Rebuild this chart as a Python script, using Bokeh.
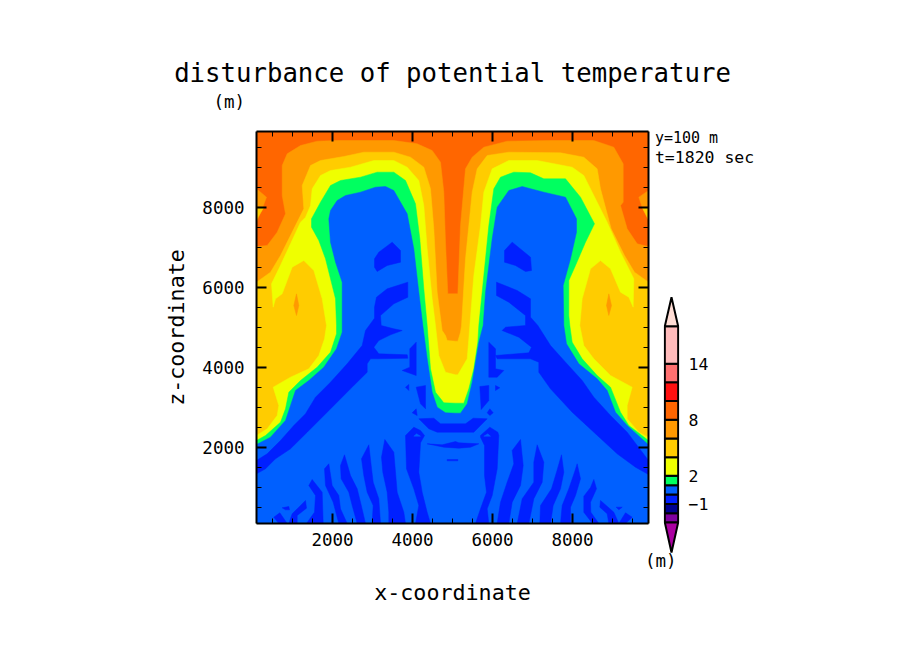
from bokeh.embed import file_html
from bokeh.layouts import row
from bokeh.models import FixedTicker, Label, LinearAxis, Range1d
from bokeh.plotting import figure
from bokeh.resources import INLINE

# contour outlines, (x, z) in metres, filled back to front
x_min, x_max = 100, 9900
z_min, z_max = 100, 9900
major_ticks = [2000, 4000, 6000, 8000]
minor_ticks = [500, 1000, 1500, 2500, 3000, 3500, 4500, 5000, 5500, 6500, 7000, 7500, 8500, 9000, 9500]

# 6 to 8
orange_outline = [(100, 7025), (367, 7050), (617, 7383), (825, 7842), (742, 8300), (742, 9050), (867, 9342),
                  (1200, 9550), (1617, 9658), (2117, 9675), (3533, 9675), (4117, 9592), (4492, 9425), (4700, 9133),
                  (4783, 8383), (4825, 7133), (4883, 5842), (5133, 5842), (5200, 7550), (5325, 8967), (5492, 9258),
                  (5783, 9508), (6367, 9658), (7450, 9675), (8533, 9675), (9033, 9508), (9267, 9092), (9267, 8133),
                  (9200, 8050), (9367, 7467), (9617, 7092), (9900, 7025), (9900, 100), (100, 100)]
orange_bump_left = [(100, 8467), (350, 8258), (242, 7967), (100, 7633)]
orange_bump_right = [(9900, 8425), (9658, 8258), (9742, 8008), (9900, 7675)]
gold_bump_left = [(100, 8000), (283, 8000), (100, 7700)]
gold_bump_right = [(9900, 8000), (9742, 8000), (9900, 7700)]

# 4 to 6
gold_outline = [(100, 6133), (450, 6383), (700, 6800), (1033, 7467), (1283, 7967), (1242, 8550), (1450, 9050),
                (1700, 9175), (2283, 9275), (2783, 9383), (3533, 9383), (3950, 9258), (4283, 9008), (4450, 8467),
                (4533, 7467), (4617, 5883), (4742, 4925), (4825, 4800), (4867, 4675), (5075, 4658), (5133, 4658),
                (5200, 4883), (5225, 5050), (5325, 6717), (5492, 8383), (5617, 8967), (5867, 9300), (6408, 9383),
                (7700, 9367), (8283, 9258), (8617, 8967), (8700, 8467), (8967, 7467), (9300, 6800), (9550, 6383),
                (9900, 6133), (9900, 100), (100, 100)]
orange_spot_left = [(1100, 5842), (1158, 5550), (1100, 5300), (1033, 5550)]
orange_spot_right = [(8908, 5842), (8975, 5550), (8908, 5300), (8850, 5550)]

# 2 to 4
yellow_outline = [(100, 2300), (367, 2467), (617, 2800), (658, 3050), (517, 3508), (950, 3758), (1408, 3967),
                  (1658, 4300), (1800, 4717), (1850, 5050), (1742, 5717), (1533, 6425), (1283, 6675), (992, 6508),
                  (742, 5842), (575, 5717), (517, 5508), (475, 6092), (658, 6467), (950, 7092), (1200, 7633),
                  (1325, 7758), (1450, 8050), (1492, 8467), (1700, 8800), (1950, 8925), (2450, 9008), (3033, 9175),
                  (3533, 9175), (3867, 9008), (4158, 8675), (4283, 8050), (4367, 6967), (4492, 5717), (4575, 5050),
                  (4658, 4300), (4825, 3883), (5075, 3817), (5133, 3817), (5367, 4217), (5408, 4717), (5433, 5050),
                  (5533, 6300), (5700, 7550), (5783, 8383), (5992, 8967), (6408, 9175), (7117, 9175), (7992, 9008),
                  (8283, 8800), (8492, 8383), (8867, 7633), (9200, 6883), (9533, 6217), (9517, 5508), (9408, 5758),
                  (9200, 5883), (8950, 6467), (8700, 6675), (8450, 6467), (8242, 5717), (8183, 5050), (8283, 4550),
                  (8533, 4217), (8950, 3800), (9492, 3508), (9367, 3050), (9367, 2717), (9658, 2383), (9900, 2250),
                  (9900, 100), (100, 100)]

# 1 to 2
green_outline = [(100, 2175), (325, 2300), (700, 2633), (825, 2967), (908, 3383), (1200, 3675), (1617, 4008),
                 (1950, 4383), (2100, 4842), (2100, 5050), (2075, 5717), (1825, 6717), (1658, 7175), (1475, 7508),
                 (1475, 7717), (1700, 8133), (1950, 8550), (2200, 8675), (2700, 8758), (3117, 8883), (3533, 8883),
                 (3825, 8675), (4075, 8092), (4183, 7217), (4283, 5967), (4367, 5050), (4450, 3967), (4575, 3383),
                 (4783, 3117), (5075, 3108), (5283, 3108), (5408, 3467), (5533, 3967), (5633, 4633), (5658, 5050),
                 (5783, 6300), (5908, 7550), (6033, 8467), (6200, 8758), (6533, 8883), (6950, 8867), (7283, 8717),
                 (7825, 8717), (8200, 8258), (8550, 7592), (8325, 7133), (8075, 6550), (7908, 6175), (7908, 5300),
                 (7933, 5050), (7992, 4633), (8242, 4217), (8617, 3800), (8950, 3508), (9200, 2883), (9408, 2550),
                 (9900, 2175), (9900, 100), (100, 100)]

# 0 to 1
blue_outline = [(100, 2075), (450, 2258), (825, 2675), (950, 3050), (1075, 3425), (1408, 3675), (1783, 4008),
                (2100, 4467), (2242, 4883), (2242, 5050), (2242, 6133), (2075, 6633), (1950, 7133), (1908, 7717),
                (1950, 7925), (2117, 8175), (2325, 8300), (2700, 8383), (3075, 8508), (3325, 8525), (3533, 8425),
                (3867, 7842), (4033, 6967), (4158, 5883), (4258, 5050), (4367, 4217), (4492, 3383), (4617, 3008),
                (4825, 2867), (5075, 2858), (5200, 2858), (5367, 3092), (5492, 3633), (5658, 4633), (5767, 5050),
                (5825, 5883), (5992, 7217), (6117, 8008), (6408, 8425), (6742, 8525), (7283, 8383), (7825, 8258),
                (8100, 7717), (8100, 7383), (7950, 6717), (7767, 6050), (7783, 5050), (7850, 4592), (8158, 4092),
                (8617, 3717), (8867, 3425), (9075, 2883), (9367, 2550), (9900, 2067), (9900, 100), (100, 100)]

# -1 to 0
band_left = [(100, 1675), (367, 1842), (700, 2175), (1033, 2550), (1325, 2842), (1575, 3258), (1950, 3633),
             (2367, 4092), (2742, 4550), (2825, 4925), (3050, 5233), (3050, 5508), (3100, 5758), (3367, 5967),
             (3883, 6133), (3883, 5758), (3533, 5592), (3200, 5300), (3217, 5050), (3533, 4967), (3742, 4925),
             (3450, 4817), (3158, 4675), (3033, 4508), (3158, 4342), (3867, 4317), (3883, 4233), (3117, 4217),
             (2950, 4217), (2867, 4092), (2867, 3883), (2450, 3467), (1867, 2883), (1367, 2383), (950, 1967),
             (575, 1717), (325, 1467), (100, 1342)]
band_right = [(6100, 6133), (6617, 5925), (6950, 5717), (6950, 5258), (7133, 5050), (7450, 4550), (7825, 4133),
              (8242, 3675), (8533, 3258), (8950, 2800), (9367, 2383), (9900, 1675), (9900, 1325), (9575, 1508),
              (9117, 1842), (8533, 2383), (7992, 2883), (7450, 3467), (7158, 3883), (7158, 4133), (6950, 4217),
              (6117, 4217), (6075, 4300), (6908, 4367), (6975, 4508), (6658, 4758), (6242, 4925), (6325, 5008),
              (6825, 5050), (6825, 5300), (6408, 5633), (6100, 5800)]
oval_left = [(3050, 6717), (3158, 6883), (3492, 7133), (3700, 6925), (3700, 6633), (3367, 6550), (3117, 6400), (3050, 6508)]
oval_right = [(6300, 6925), (6492, 7133), (6950, 6758), (6975, 6425), (6825, 6400), (6575, 6550), (6300, 6633)]
centre_bits = [
    [(4092, 4633), (4092, 3800), (3742, 3925), (3933, 4008), (3933, 4467)],
    [(5908, 4633), (6075, 4467), (6075, 3967), (6283, 3925), (6117, 3758), (5908, 3758)],
    [(3825, 3508), (3908, 3575), (3908, 3425)],
    [(6075, 3550), (6183, 3492), (6075, 3425)],
    [(4092, 3508), (4325, 3550), (4325, 2967), (4200, 3092)],
    [(5683, 3525), (5908, 3550), (5908, 3175), (5717, 2950)],
    [(3992, 2867), (4092, 2967), (4117, 2800)],
    [(5867, 2867), (5933, 2967), (6017, 2867), (5933, 2800)],
    [(4158, 2717), (4533, 2733), (4700, 2592), (5325, 2592), (5517, 2733), (5867, 2717), (5533, 2383), (4617, 2383), (4408, 2467)],
    [(4367, 2092), (4742, 2067), (5075, 2150), (5158, 2117), (5658, 2092), (5450, 2008), (5158, 1983), (4783, 2008)],
    [(4867, 1700), (5133, 1700), (5133, 1667), (4867, 1667)],
]
strip_left = [(3825, 2300), (4033, 2508), (4200, 2425), (4300, 2300), (4200, 2117), (4158, 1383), (4242, 883), (4367, 383),
              (4450, 100), (4075, 100), (4158, 550), (4033, 967), (3850, 1467)]
strip_right = [(5700, 2258), (5700, 2300), (5933, 2508), (6133, 2383), (6158, 2300), (6117, 1467), (5992, 800), (5867, 467),
               (5908, 100), (5575, 100), (5700, 467), (5850, 883), (5800, 1300), (5800, 2050)]
strip_holes = [[(4033, 2283), (4100, 2342), (4200, 2283)], [(5783, 2283), (5883, 2342), (5950, 2283)]]
stripes_left = [
    [(3308, 2200), (3533, 1883), (3575, 1383), (3617, 883), (3783, 383), (3825, 100), (3408, 100), (3408, 383), (3367, 883), (3258, 1383), (3225, 1758)],
    [(2908, 2067), (2967, 1550), (3017, 1133), (3158, 717), (3200, 100), (2992, 100), (3017, 550), (2867, 883), (2783, 1300), (2725, 1717)],
    [(2300, 1817), (2450, 1300), (2617, 967), (2700, 633), (2825, 100), (2617, 100), (2492, 550), (2408, 883), (2217, 1217), (2200, 1550)],
    [(1908, 1592), (1992, 1050), (2158, 800), (2200, 467), (2367, 100), (2158, 100), (2017, 633), (1825, 1050), (1800, 1467)],
    [(1492, 1200), (1742, 883), (1767, 100), (1350, 100), (1550, 383), (1575, 800), (1408, 1050)],
    [(1325, 675), (992, 342), (908, 100), (1117, 100), (1117, 300), (1350, 483)],
    [(742, 492), (908, 525), (925, 442), (825, 442)],
    [(533, 258), (683, 367), (867, 100), (658, 100)],
]
stripes_right = [
    [(6700, 2200), (6767, 1550), (6700, 1050), (6492, 633), (6408, 100), (6117, 100), (6200, 633), (6367, 1133), (6533, 1592), (6492, 1925)],
    [(7117, 2067), (7283, 1633), (7242, 1133), (7033, 717), (6908, 100), (6617, 100), (6742, 717), (7033, 1133), (7033, 1633)],
    [(7725, 1817), (7783, 1383), (7700, 967), (7517, 550), (7450, 100), (7183, 100), (7200, 550), (7475, 967), (7600, 1383)],
    [(8117, 1592), (8200, 1217), (8075, 800), (7950, 508), (7950, 100), (7700, 100), (7742, 550), (7908, 967), (8050, 1383)],
    [(8533, 1200), (8600, 967), (8450, 633), (8458, 383), (8658, 100), (8500, 100), (8283, 383), (8283, 783), (8450, 1000)],
    [(8700, 675), (9033, 383), (9158, 100), (8908, 100), (8867, 342), (8683, 508)],
    [(9092, 508), (9242, 508), (9158, 442)],
    [(9325, 367), (9492, 258), (9325, 100), (9158, 100)],
]

# colour bar
bar_levels = [-3, -2, -1, 0, 1, 2, 4, 6, 8, 10, 12, 14, 18]
bar_colors = ["#8000A0", "#000090", "#0020FF", "#0060FF", "#00FF60", "#EFFF00", "#FFCC00",
              "#FF9900", "#FF6600", "#FF1010", "#FF7070", "#FFBBBB"]
bar_tick_values = [-1, 2, 8, 14]
bar_low_tip, bar_low_color = -6.2, "#AA00A0"
bar_high_tip, bar_high_color = 21.1, "#FFDDD5"

MONO = "DejaVu Sans Mono"


def fill(p, outline, color):
    p.patch([pt[0] for pt in outline], [pt[1] for pt in outline], fill_color=color, line_color=color, line_width=0.5)


p = figure(width=880, height=643, x_range=Range1d(x_min, x_max), y_range=Range1d(z_min, z_max),
           min_border_left=256, min_border_right=232, min_border_top=131, min_border_bottom=120,
           output_backend="svg", toolbar_location=None, background_fill_color="#FF6600",
           x_axis_label="x-coordinate", y_axis_label="z-coordinate",
           title="disturbance of potential temperature")
p.grid.visible = False
p.outline_line_color = None

p.title.align = "center"
p.title.text_font = MONO
p.title.text_font_size = "25.7px"
p.title.text_font_style = "normal"
p.title.text_color = "black"
p.title.standoff = 48

p.add_layout(LinearAxis(), "above")
p.add_layout(LinearAxis(), "right")
for axis in p.axis:
    axis.ticker = FixedTicker(ticks=major_ticks, minor_ticks=minor_ticks)
    axis.major_tick_in = 10
    axis.major_tick_out = 0
    axis.minor_tick_in = 5
    axis.minor_tick_out = 0
    axis.axis_line_width = 2
    axis.major_tick_line_width = 2
    axis.minor_tick_line_width = 1
    axis.major_label_text_font = MONO
    axis.major_label_text_font_size = "17.5px"
    axis.major_label_text_color = "black"
    axis.axis_label_text_font = MONO
    axis.axis_label_text_font_size = "21.7px"
    axis.axis_label_text_font_style = "normal"
    axis.axis_label_text_color = "black"
p.above[0].major_label_overrides = {t: "" for t in major_ticks}
p.right[0].major_label_overrides = {t: "" for t in major_ticks}
p.below[0].major_label_standoff = 9
p.left[0].major_label_standoff = 12
p.below[0].axis_label_standoff = 31
p.left[0].axis_label_standoff = 10
p.left[0].major_label_orientation = "horizontal"

fill(p, orange_outline, "#FF9900")
fill(p, orange_bump_left, "#FF9900")
fill(p, orange_bump_right, "#FF9900")
fill(p, gold_bump_left, "#FFCC00")
fill(p, gold_bump_right, "#FFCC00")
fill(p, gold_outline, "#FFCC00")
fill(p, orange_spot_left, "#FF9900")
fill(p, orange_spot_right, "#FF9900")
fill(p, yellow_outline, "#EFFF00")
fill(p, green_outline, "#00FF60")
fill(p, blue_outline, "#0060FF")
for outline in [band_left, band_right, oval_left, oval_right, strip_left, strip_right] + centre_bits + stripes_left + stripes_right:
    fill(p, outline, "#0020FF")
for outline in strip_holes:
    fill(p, outline, "#0060FF")

# labels outside the frame have to live in a side panel or they get clipped
p.add_layout(Label(x=-975, y=10380, text="(m)", text_font=MONO, text_font_size="17.5px", text_color="black"), "above")
p.add_layout(Label(x=10060, y=9525, text="y=100 m", text_font=MONO, text_font_size="15px", text_color="black"), "right")
p.add_layout(Label(x=10060, y=9025, text="t=1820 sec", text_font=MONO, text_font_size="16.5px", text_color="black"), "right")

# the colour bar sits in its own transparent figure, on top of the main one
cb = figure(width=130, height=643, x_range=Range1d(-0.1, 1.1), y_range=Range1d(-6.52, 21.5),
            min_border_left=23, min_border_right=91, min_border_top=293, min_border_bottom=88,
            output_backend="svg", toolbar_location=None, y_axis_location="right",
            background_fill_color=None, border_fill_color=None)
cb.grid.visible = False
cb.outline_line_color = None
cb.xaxis.visible = False
cb.yaxis.axis_line_color = None
cb.yaxis.ticker = FixedTicker(ticks=bar_tick_values)
cb.yaxis.major_tick_in = 0
cb.yaxis.major_tick_out = 0
cb.yaxis.minor_tick_line_color = None
cb.yaxis.major_label_standoff = 9
cb.yaxis.major_label_text_font = MONO
cb.yaxis.major_label_text_font_size = "16.5px"
cb.yaxis.major_label_text_color = "black"
cb.quad(left=0, right=1, bottom=bar_levels[:-1], top=bar_levels[1:], fill_color=bar_colors,
        line_color="black", line_width=2)
cb.patch([0, 0.5, 1], [bar_levels[0], bar_low_tip, bar_levels[0]], fill_color=bar_low_color,
         line_color="black", line_width=2)
cb.patch([0, 0.5, 1], [bar_levels[-1], bar_high_tip, bar_levels[-1]], fill_color=bar_high_color,
         line_color="black", line_width=2)
cb.add_layout(Label(x=-0.3, y=-8.2, text="(m)", text_align="center", text_font=MONO, text_font_size="17.5px", text_color="black"), "below")

# nested and pinned, so that the two frames are not aligned with each other
layout = row(p, row(cb, styles={"position": "absolute", "left": "640px", "top": "0px"}))
open("out.html", "w").write(file_html(layout, INLINE))
